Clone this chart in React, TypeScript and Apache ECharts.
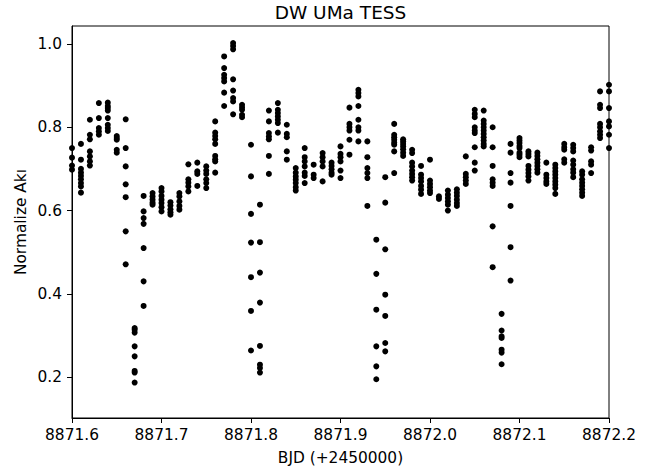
import React, { useEffect, useRef } from "react";
import * as echarts from "echarts";

// Times (BJD - 2450000), rounded to 0.01 d as in the source data
const bjd: number[] = [
  8871.6, 8871.61, 8871.62, 8871.63, 8871.64, 8871.65, 8871.66, 8871.67, 8871.68, 8871.69,
  8871.7, 8871.71, 8871.72, 8871.73, 8871.74, 8871.75, 8871.76, 8871.77, 8871.78, 8871.79,
  8871.8, 8871.81, 8871.82, 8871.83, 8871.84, 8871.85, 8871.86, 8871.87, 8871.88, 8871.89,
  8871.9, 8871.91, 8871.92, 8871.93, 8871.94, 8871.95, 8871.96, 8871.97, 8871.98, 8871.99,
  8872.0, 8872.01, 8872.02, 8872.03, 8872.04, 8872.05, 8872.06, 8872.07, 8872.08, 8872.09,
  8872.1, 8872.11, 8872.12, 8872.13, 8872.14, 8872.15, 8872.16, 8872.17, 8872.18, 8872.19,
  8872.2,
];

// Normalized flux values observed at each time
const flux: number[][] = [
  [0.750, 0.727, 0.708, 0.698],
  [0.760, 0.722, 0.700, 0.691, 0.683, 0.675, 0.666, 0.658, 0.643],
  [0.818, 0.782, 0.771, 0.742, 0.730, 0.718, 0.708],
  [0.858, 0.822, 0.798, 0.790, 0.782],
  [0.859, 0.851, 0.846, 0.840, 0.822, 0.806, 0.798, 0.791],
  [0.779, 0.774, 0.770, 0.746, 0.739],
  [0.819, 0.750, 0.706, 0.663, 0.632, 0.550, 0.471],
  [0.318, 0.314, 0.307, 0.274, 0.250, 0.215, 0.211, 0.187],
  [0.635, 0.598, 0.582, 0.568, 0.510, 0.430, 0.371],
  [0.642, 0.634, 0.626, 0.619, 0.614],
  [0.654, 0.646, 0.635, 0.626, 0.618, 0.608, 0.598],
  [0.620, 0.612, 0.603, 0.596, 0.590],
  [0.642, 0.634, 0.622, 0.611, 0.602],
  [0.711, 0.675, 0.667, 0.658, 0.646],
  [0.715, 0.694, 0.688, 0.659],
  [0.706, 0.696, 0.688, 0.675, 0.666, 0.654],
  [0.814, 0.787, 0.779, 0.771, 0.760, 0.731, 0.723, 0.718, 0.691],
  [0.970, 0.942, 0.926, 0.918, 0.910, 0.883, 0.851],
  [1.002, 0.995, 0.987, 0.915, 0.888, 0.870, 0.862, 0.831],
  [0.854, 0.848, 0.842, 0.830, 0.824],
  [0.758, 0.682, 0.592, 0.523, 0.440, 0.359, 0.264],
  [0.614, 0.524, 0.451, 0.379, 0.275, 0.230, 0.222, 0.211],
  [0.840, 0.814, 0.786, 0.778, 0.771, 0.731, 0.688],
  [0.858, 0.842, 0.834, 0.826, 0.818, 0.810, 0.787],
  [0.806, 0.784, 0.776, 0.742, 0.722],
  [0.702, 0.691, 0.682, 0.674, 0.666, 0.656, 0.648],
  [0.750, 0.728, 0.718, 0.706, 0.691, 0.683, 0.666],
  [0.710, 0.686, 0.678],
  [0.738, 0.728, 0.718, 0.706, 0.670],
  [0.715, 0.707, 0.699, 0.691, 0.686],
  [0.754, 0.736, 0.728, 0.718, 0.696, 0.678],
  [0.847, 0.808, 0.800, 0.792, 0.770, 0.734],
  [0.890, 0.882, 0.874, 0.851, 0.818, 0.800, 0.792, 0.766],
  [0.766, 0.728, 0.702, 0.690, 0.678, 0.611],
  [0.530, 0.448, 0.362, 0.274, 0.226, 0.195],
  [0.680, 0.619, 0.507, 0.398, 0.347, 0.282, 0.262],
  [0.808, 0.782, 0.776, 0.770, 0.763, 0.758, 0.742, 0.690],
  [0.771, 0.766, 0.760, 0.754, 0.747, 0.739, 0.731],
  [0.746, 0.738, 0.715, 0.706, 0.696, 0.688, 0.680, 0.672],
  [0.707, 0.686, 0.678, 0.670, 0.659, 0.650, 0.640],
  [0.722, 0.672, 0.664, 0.656, 0.648, 0.642],
  [0.634, 0.628],
  [0.648, 0.638, 0.630, 0.622, 0.614, 0.600],
  [0.651, 0.643, 0.635, 0.626, 0.618, 0.611],
  [0.730, 0.688, 0.680, 0.672, 0.664],
  [0.842, 0.832, 0.824, 0.800, 0.792, 0.786, 0.752, 0.715, 0.696],
  [0.840, 0.816, 0.808, 0.800, 0.792, 0.784, 0.776, 0.768, 0.760, 0.754],
  [0.800, 0.752, 0.707, 0.675, 0.667, 0.659, 0.562, 0.464],
  [0.352, 0.312, 0.298, 0.294, 0.266, 0.259, 0.231],
  [0.760, 0.739, 0.690, 0.667, 0.611, 0.512, 0.432],
  [0.774, 0.768, 0.762, 0.755, 0.750, 0.739, 0.734, 0.728],
  [0.742, 0.736, 0.730, 0.707, 0.698, 0.690, 0.682, 0.672],
  [0.739, 0.731, 0.723, 0.715, 0.707, 0.699, 0.691],
  [0.715, 0.686, 0.678, 0.670, 0.664],
  [0.710, 0.702, 0.694, 0.686, 0.678, 0.670, 0.662, 0.654, 0.640],
  [0.760, 0.752, 0.746, 0.723, 0.715],
  [0.758, 0.750, 0.742, 0.720, 0.710, 0.699, 0.691, 0.680],
  [0.694, 0.686, 0.675, 0.667, 0.659, 0.651, 0.643, 0.635],
  [0.752, 0.744, 0.718, 0.710, 0.690],
  [0.886, 0.854, 0.846, 0.808, 0.800, 0.790, 0.782, 0.774],
  [0.902, 0.886, 0.846, 0.814, 0.802, 0.782, 0.750],
];

const yTickValues: number[] = [0.2, 0.4, 0.6, 0.8, 1.0];

const titleText = "DW UMa TESS";
const xLabelText = "BJD (+2450000)";
const yLabelText = "Normalize Akı";

const FONT = "DejaVu Sans";

export default function App() {
  const ref = useRef<HTMLDivElement>(null);
  useEffect(() => {
    if (!ref.current) return;
    const chart = echarts.init(ref.current, null, { renderer: "svg" });
    const points: [number, number][] = [];
    bjd.forEach((t, i) => {
      (flux[i] || []).forEach((f) => points.push([t, f]));
    });
    const gl = 72, gt = 26, gw = 537, gh = 392;
    chart.setOption({
      animation: false,
      backgroundColor: "#fff",
      grid: {
        left: gl,
        top: gt,
        width: gw,
        height: gh,
        show: true,
        borderColor: "#000",
        borderWidth: 1,
        backgroundColor: "transparent",
      },
      xAxis: {
        type: "value",
        min: 8871.6,
        max: 8872.2,
        interval: 0.1,
        axisLine: { show: true, lineStyle: { color: "#000", width: 1 } },
        axisTick: { show: true, inside: false, length: 5, lineStyle: { color: "#000", width: 1 } },
        axisLabel: {
          color: "#000",
          fontFamily: FONT,
          fontSize: 15.4,
          margin: 9,
          formatter: (v: number) => v.toFixed(1),
        },
        splitLine: { show: false },
      },
      yAxis: {
        type: "value",
        min: 0.102,
        max: 1.043,
        axisLine: { show: true, lineStyle: { color: "#000", width: 1 } },
        axisTick: {
          show: true,
          inside: false,
          length: 5,
          customValues: yTickValues,
          lineStyle: { color: "#000", width: 1 },
        },
        axisLabel: {
          color: "#000",
          fontFamily: FONT,
          fontSize: 15.4,
          margin: 10,
          customValues: yTickValues,
          formatter: (v: number) => v.toFixed(1),
        },
        splitLine: { show: false },
      },
      series: [
        {
          type: "scatter",
          data: points,
          symbol: "circle",
          symbolSize: 6,
          itemStyle: { color: "#000", opacity: 1 },
          clip: true,
        },
      ],
      graphic: [
        {
          type: "text",
          x: gl + gw / 2,
          y: 12,
          style: {
            text: titleText,
            fontFamily: FONT,
            fontSize: 18.5,
            fill: "#000",
            textAlign: "center",
            textVerticalAlign: "middle",
          },
        },
        {
          type: "text",
          x: gl + gw / 2,
          y: 458,
          style: {
            text: xLabelText,
            fontFamily: FONT,
            fontSize: 15.4,
            fill: "#000",
            textAlign: "center",
            textVerticalAlign: "middle",
          },
        },
        {
          type: "text",
          x: 21,
          y: gt + gh / 2,
          rotation: Math.PI / 2,
          style: {
            text: yLabelText,
            fontFamily: FONT,
            fontSize: 15.4,
            fill: "#000",
            textAlign: "center",
            textVerticalAlign: "middle",
          },
        },
      ],
    });
    return () => chart.dispose();
  }, []);
  return (
    <div
      ref={ref}
      style={{ position: "fixed", left: 0, top: 0, width: 651, height: 473, background: "#fff" }}
    />
  );
}
